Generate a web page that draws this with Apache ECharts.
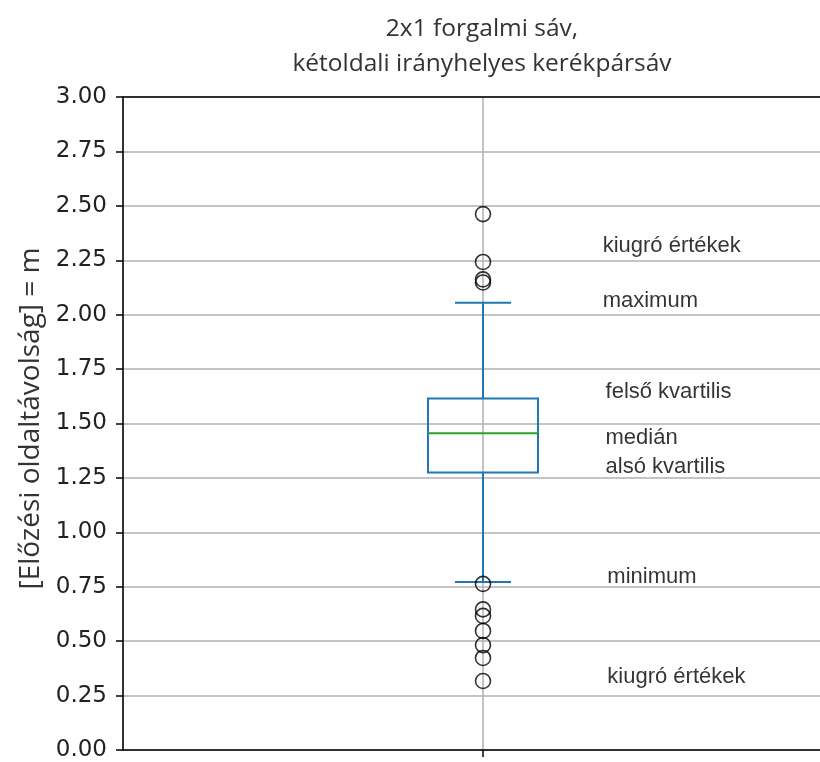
<!DOCTYPE html>
<html>
<head>
<meta charset="utf-8">
<script src="https://cdn.jsdelivr.net/npm/echarts@6/dist/echarts.min.js"></script>
<style>html,body{margin:0;padding:0;background:#fff}#c{width:820px;height:762px}</style>
</head>
<body>
<div id="c"></div>
<script>
// ---- data ----
const categories = [''];
const titleText = '2x1 forgalmi sáv,\nkétoldali irányhelyes kerékpársáv';
const yAxisName = '[Előzési oldaltávolság] = m';
// [min whisker, Q1, median, Q3, max whisker]
const boxStats = [0.772, 1.275, 1.455, 1.615, 2.055];
const outliers = [2.462, 2.242, 2.162, 2.148, 0.763, 0.646, 0.616, 0.547, 0.482, 0.423, 0.317];
const annotationLabels = ['kiugró értékek', 'maximum', 'felső kvartilis', 'medián', 'alsó kvartilis', 'minimum', 'kiugró értékek'];
const annotationY = [2.315, 2.061, 1.645, 1.433, 1.300, 0.795, 0.335];
const annotationX = [0.331, 0.331, 0.339, 0.339, 0.339, 0.344, 0.344];
const yTicks = { min: 0, max: 3, interval: 0.25 };

const chart = echarts.init(document.getElementById('c'), null, { renderer: 'canvas' });

const option = {
  backgroundColor: '#fff',
  animation: false,
  title: {
    text: titleText,
    left: 477, textAlign: 'center', top: 7,
    textStyle: { fontFamily: 'Open Sans', fontWeight: 'normal', fontSize: 24.5, color: '#333', lineHeight: 35 }
  },
  grid: { left: 123, top: 97, width: 720, height: 653, outerBoundsMode: 'none', containLabel: false },
  xAxis: [
    {
      type: 'category', data: categories, position: 'bottom',
      axisLine: { show: true, onZero: false, lineStyle: { color: '#000', width: 1.5 } },
      axisTick: { show: true, alignWithLabel: true, length: 7, lineStyle: { color: '#000', width: 1.5 } },
      axisLabel: { show: false },
      splitLine: { show: false }
    },
    {
      type: 'value', min: -1, max: 1, interval: 1, position: 'top',
      axisLine: { show: true, onZero: false, lineStyle: { color: '#000', width: 1.5 } },
      axisTick: { show: false },
      axisLabel: { show: false },
      splitLine: { show: true, lineStyle: { color: '#b0b0b0', width: 1.5 } }
    }
  ],
  yAxis: {
    type: 'value', min: yTicks.min, max: yTicks.max, interval: yTicks.interval,
    name: yAxisName, nameLocation: 'middle', nameGap: 78, nameRotate: 90,
    nameTextStyle: { fontFamily: 'Open Sans', fontSize: 28, color: '#333', padding: [0, 0, 0, 10] },
    axisLine: { show: true, onZero: false, lineStyle: { color: '#000', width: 1.5 } },
    axisTick: { show: true, length: 7, lineStyle: { color: '#000', width: 1.5 } },
    axisLabel: { fontFamily: 'DejaVu Sans', fontSize: 23, color: '#222', margin: 16, formatter: v => v.toFixed(2) },
    splitLine: { show: true, lineStyle: { color: '#b0b0b0', width: 1.5 } }
  },
  series: [
    {
      type: 'custom', xAxisIndex: 0,
      data: [[0].concat(boxStats)],
      encode: { x: 0, y: [1, 2, 3, 4, 5] },
      renderItem: function (params, api) {
        const x = api.value(0);
        const pMin = api.coord([x, api.value(1)]);
        const pQ1 = api.coord([x, api.value(2)]);
        const pMed = api.coord([x, api.value(3)]);
        const pQ3 = api.coord([x, api.value(4)]);
        const pMax = api.coord([x, api.value(5)]);
        const hw = 55, cw = 28, cx = pMed[0];
        const blue = { stroke: '#1f77b4', lineWidth: 2, fill: null };
        return {
          type: 'group',
          children: [
            { type: 'rect', shape: { x: cx - hw, y: pQ3[1], width: 2 * hw, height: pQ1[1] - pQ3[1] }, style: blue },
            { type: 'line', shape: { x1: cx, y1: pQ3[1], x2: cx, y2: pMax[1] }, style: blue },
            { type: 'line', shape: { x1: cx, y1: pQ1[1], x2: cx, y2: pMin[1] }, style: blue },
            { type: 'line', shape: { x1: cx - cw, y1: pMax[1], x2: cx + cw, y2: pMax[1] }, style: blue },
            { type: 'line', shape: { x1: cx - cw, y1: pMin[1], x2: cx + cw, y2: pMin[1] }, style: blue },
            { type: 'line', shape: { x1: cx - hw, y1: pMed[1], x2: cx + hw, y2: pMed[1] }, style: { stroke: '#2ca02c', lineWidth: 2 } }
          ]
        };
      },
      z: 3
    },
    {
      type: 'scatter', xAxisIndex: 0,
      data: outliers.map(v => [0, v]),
      symbol: 'circle', symbolSize: 15,
      itemStyle: { color: 'rgba(0,0,0,0)', borderColor: '#000', borderWidth: 1.6 },
      z: 4
    },
    {
      type: 'scatter', xAxisIndex: 1,
      data: annotationLabels.map((t, i) => ({ value: [annotationX[i], annotationY[i]], name: t })),
      symbol: 'circle', symbolSize: 1,
      itemStyle: { color: 'rgba(0,0,0,0)' },
      label: {
        show: true, position: 'right', distance: 0, formatter: p => p.name,
        fontFamily: 'Liberation Sans', fontSize: 22, color: '#000'
      },
      z: 5
    }
  ]
};
chart.setOption(option);
</script>
</body>
</html>
